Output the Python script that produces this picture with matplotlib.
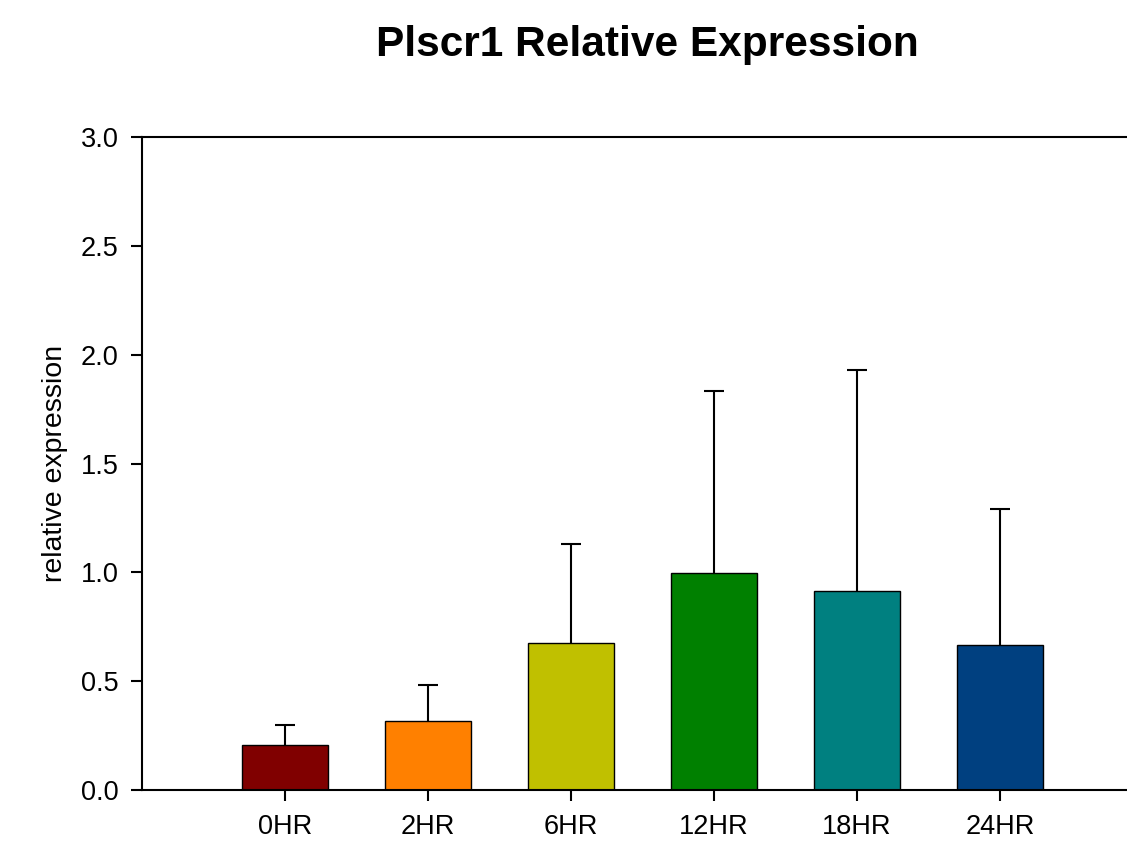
import numpy as np
import matplotlib
matplotlib.use('Agg')
import matplotlib.pyplot as plt

plt.rcParams['font.family'] = ['Liberation Sans', 'DejaVu Sans']

# data
groups = ['0HR', '2HR', '6HR', '12HR', '18HR', '24HR']
means = [0.205, 0.318, 0.676, 0.995, 0.914, 0.666]
upper = [0.300, 0.481, 1.132, 1.835, 1.928, 1.292]
colors = ['#800000', '#FF8000', '#C0C000', '#008000', '#008080', '#004080']
yticks = [0.0, 0.5, 1.0, 1.5, 2.0, 2.5, 3.0]

fig = plt.figure(figsize=(11.27, 8.41), dpi=100)
ax = fig.add_axes([142 / 1127, 1 - 790 / 841, 1001 / 1127, 653 / 841])

x = np.arange(1, len(groups) + 1)

# upper-only error bars, drawn behind the bars
ax.vlines(x, means, upper, color='black', linewidth=1.5, zorder=1)
ax.plot(x, upper, linestyle='none', marker='_', markersize=15, markeredgewidth=1.5,
        color='black', zorder=1)
ax.bar(x, means, width=0.6, color=colors, edgecolor='black', linewidth=1.0, zorder=2)

ax.set_xlim(0, 7)
ax.set_ylim(0, 3.0)
ax.set_xticks(x)
ax.set_xticklabels(groups, fontsize=19.5)
ax.set_yticks(yticks)
ax.set_yticklabels([f'{v:.1f}' for v in yticks], fontsize=19.5)
ax.tick_params(direction='out', length=8, width=1.5, pad=9)
ax.spines['right'].set_visible(False)
for s in ['left', 'bottom', 'top']:
    ax.spines[s].set_linewidth(1.5)
ax.set_ylabel('relative expression', fontsize=20.5)
ax.yaxis.set_label_coords(-(142 - 68) / 1001, 0.5)

fig.text(647 / 1127, 1 - 45 / 841, 'Plscr1 Relative Expression', ha='center', va='center',
         fontsize=30.5, fontweight='bold')

fig.savefig('out.png', dpi=100)
